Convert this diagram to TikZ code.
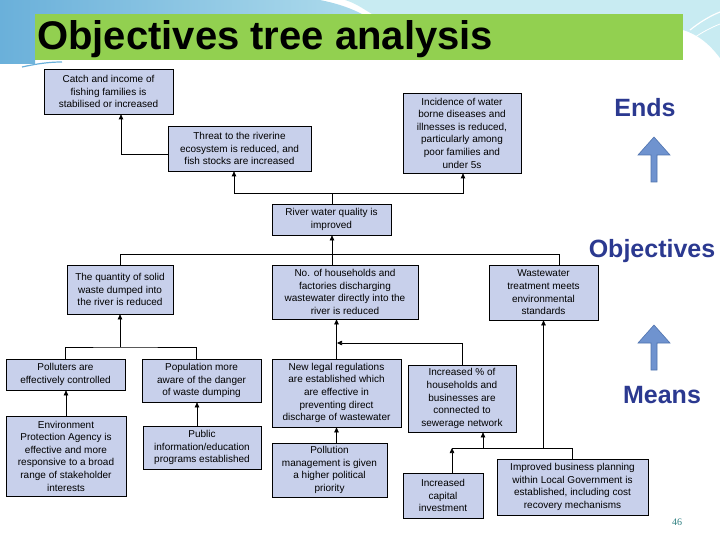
\documentclass[tikz,border=0pt]{standalone}
\usepackage{fontspec}
\setmainfont{Liberation Sans}
\newfontfamily\numfont{Liberation Serif}
\usepackage{tikz}
\usetikzlibrary{positioning, arrows.meta, calc}
\definecolor{tree-box}{HTML}{C8D0EB}
\definecolor{tree-title}{HTML}{92D050}
\definecolor{tree-navy}{HTML}{2B3990}
\definecolor{tree-arrow}{HTML}{6F93CF}
\definecolor{tree-arrowline}{HTML}{4F73AE}
\definecolor{tree-teal}{HTML}{2E7F80}
\definecolor{swoosh-dark}{HTML}{6AB0DA}
\definecolor{swoosh-mid}{HTML}{AEDBEC}
\definecolor{swoosh-light}{HTML}{C8EBF2}

\begin{document}
\begin{tikzpicture}[
    x=1pt, y=-1pt,
    obj/.style={draw, fill=tree-box, align=center, inner sep=1pt, line width=0.7pt,
                font=\fontsize{10}{12.6}\selectfont},
    arr/.style={-{Triangle[width=4.5pt, length=5pt]}, line width=0.7pt},
    side/.style={anchor=base, font=\fontsize{25}{30}\selectfont\bfseries, text=tree-navy},
    bigarr/.style={fill=tree-arrow, draw=tree-arrowline, line width=0.6pt},
]
    \useasboundingbox (0,0) rectangle (720,540);

    % slide background
    \shade[left color=swoosh-dark, right color=swoosh-mid]
        (0,0) -- (320,0) .. controls (340,4) and (352,9) .. (362,14) -- (35,14) -- (35,64) -- (0,64) -- cycle;
    \fill[swoosh-light] (345,0) -- (720,0) -- (720,58) .. controls (708,42) and (696,34) .. (683,30)
        -- (683,14) -- (372,14) .. controls (362,8) and (355,3) .. cycle;
    \draw[white, line width=1.2pt] (690,30) .. controls (700,22) and (710,16) .. (720,12);
    \draw[white, line width=0.8pt] (686,44) .. controls (698,34) and (710,28) .. (720,24);
    \draw[swoosh-dark, line width=1.2pt] (22,67) .. controls (36,64) and (48,62) .. (62,62);

    % title
    \fill[tree-title] (35,14) rectangle (683,60);
    \node[anchor=base west, inner sep=0pt, font=\fontsize{40}{40}\selectfont\bfseries] (title) at (37,50) {Objectives tree analysis};

    % ends / means
    \node[side] (ends) at (645,117) {Ends};
    \draw[bigarr] (651,182) -- (651,155) -- (638,155) -- (654,137) -- (670,155) -- (657,155) -- (657,182) -- cycle;
    \node[side] (objs) at (652,258) {Objectives};
    \draw[bigarr] (651,370) -- (651,343) -- (638,343) -- (654,325) -- (670,343) -- (657,343) -- (657,370) -- cycle;
    \node[side] (means) at (662,403) {Means};

    % boxes
    \node[obj, minimum width=129pt, minimum height=45pt] (catch) at (108.5,91.5) {Catch and income of\\fishing families is\\stabilised or increased};
    \node[obj, minimum width=143pt, minimum height=45pt] (threat) at (239.5,148.5) {Threat to the riverine\\ecosystem is reduced, and\\fish stocks are increased};
    \node[obj, minimum width=118pt, minimum height=80pt] (incid) at (462,133) {Incidence of water\\borne diseases and\\illnesses is reduced,\\particularly among\\poor families and\\under 5s};
    \node[obj, minimum width=119pt, minimum height=31pt] (river) at (331.5,219.5) {River water quality is\\improved};
    \node[obj, minimum width=106pt, minimum height=49pt] (solid) at (120,289.5) {The quantity of solid\\waste dumped into\\the river is reduced};
    \node[obj, minimum width=146pt, minimum height=54pt] (hhold) at (345,292) {No. of households and\\factories discharging\\wastewater directly into the\\river is reduced};
    \node[obj, minimum width=109pt, minimum height=55pt] (wwt) at (543.5,292.5) {Wastewater\\treatment meets\\environmental\\standards};
    \node[obj, minimum width=119pt, minimum height=31pt] (pollut) at (65.5,374.5) {Polluters are\\effectively controlled};
    \node[obj, minimum width=119pt, minimum height=43pt] (popul) at (201.5,380.5) {Population more\\aware of the danger\\of waste dumping};
    \node[obj, minimum width=129pt, minimum height=68pt] (legal) at (336.5,393) {New legal regulations\\are established which\\are effective in\\preventing direct\\discharge of wastewater};
    \node[obj, minimum width=108pt, minimum height=67pt] (pct) at (462,398.5) {Increased \% of\\households and\\businesses are\\connected to\\sewerage network};
    \node[obj, minimum width=120pt, minimum height=80pt] (epa) at (66,456) {Environment\\Protection Agency is\\effective and more\\responsive to a broad\\range of stakeholder\\interests};
    \node[obj, minimum width=118pt, minimum height=43pt] (public) at (202,447.5) {Public\\information/education\\programs established};
    \node[obj, minimum width=115pt, minimum height=54pt] (pmgmt) at (329.5,470) {Pollution\\management is given\\a higher political\\priority};
    \node[obj, minimum width=80pt, minimum height=45pt] (capital) at (443,495.5) {Increased\\capital\\investment};
    \node[obj, minimum width=151pt, minimum height=56pt] (business) at (572.5,487) {Improved business planning\\within Local Government is\\established, including cost\\recovery mechanisms};

    % connectors
    \coordinate (b1) at (332,193);
    \coordinate (b2) at (332,254);
    \coordinate (b3) at (120,347);
    \coordinate (j1) at (337,343);
    \coordinate (b4) at (483,448);

    \draw[arr] ([yshift=-5.5pt]threat.west) -| ([xshift=12.5pt]catch.south);
    \draw (river.north -| b1) -- (b1);
    \draw[arr] (b1) -| ([xshift=-5.5pt]threat.south);
    \draw[arr] (b1) -| ([xshift=1pt]incid.south);

    \draw[arr] (b2) -- (b2 |- river.south);
    \draw (b2 |- hhold.north) -- (b2);
    \draw (b2) -| (solid.north);
    \draw (b2) -| ([xshift=16pt]wwt.north);

    \draw[arr] (b3) -- (solid.south);
    \draw (pollut.north) |- (b3) -| ([xshift=-5pt]popul.north);
    \draw[arr] (epa.north) -- (epa.north |- pollut.south);
    \draw[arr] ([xshift=-5pt]public.north) -- ([xshift=-5pt]public.north |- popul.south);

    \draw[arr] (legal.north) -- (legal.north |- hhold.south);
    \draw[arr] (pct.north) |- (j1);
    \draw[arr] (legal.south |- pmgmt.north) -- (legal.south);

    \draw[arr] ([xshift=9pt]capital.north) -- ([xshift=9pt]capital.north |- b4);
    \draw ([xshift=9pt]capital.north |- b4) -- (b4 -| business.north) -- (business.north);
    \draw[arr] (b4) -- (b4 |- pct.south);
    \draw[arr] (wwt.south |- b4) -- (wwt.south);

    \node[font=\numfont\fontsize{10}{12}\selectfont, text=tree-teal] (pnum) at (677,522) {46};
\end{tikzpicture}
\end{document}
